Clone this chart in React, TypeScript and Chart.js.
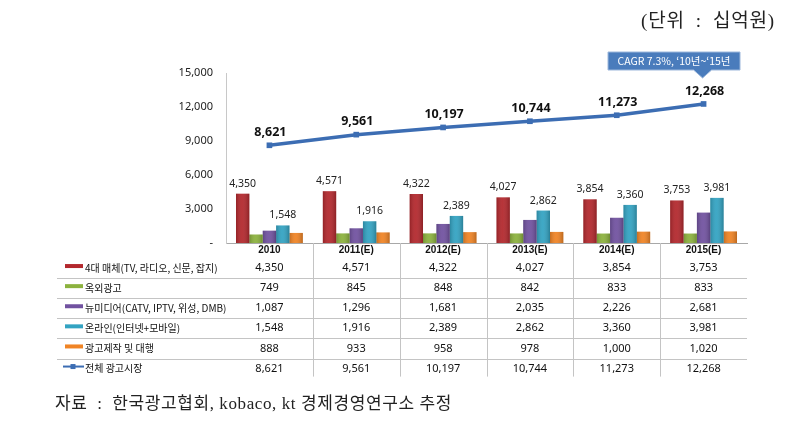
import React, { useEffect, useRef } from 'react';
import { Chart, registerables } from 'chart.js';

Chart.register(...registerables);

// ---- data ----
const categories = ['2010', '2011(E)', '2012(E)', '2013(E)', '2014(E)', '2015(E)'];
const seriesNames = [
  '4대 매체(TV, 라디오, 신문, 잡지)',
  '옥외광고',
  '뉴미디어(CATV, IPTV, 위성, DMB)',
  '온라인(인터넷+모바일)',
  '광고제작 및 대행',
  '전체 광고시장',
];
const massMedia = [4350, 4571, 4322, 4027, 3854, 3753];
const outdoor = [749, 845, 848, 842, 833, 833];
const newMedia = [1087, 1296, 1681, 2035, 2226, 2681];
const online = [1548, 1916, 2389, 2862, 3360, 3981];
const production = [888, 933, 958, 978, 1000, 1020];
const total = [8621, 9561, 10197, 10744, 11273, 12268];
const yMax = 15000;
const yStep = 3000;
const unitText = '(단위 : 십억원)';
const calloutText = 'CAGR 7.3%, ‘10년~‘15년';
const sourceText = '자료 : 한국광고협회, kobaco, kt 경제경영연구소 추정';

const colors = ['#B3282D', '#8CB23E', '#7152A0', '#33A3C2', '#F08425', '#3C6DB3'];
const allSeries = [massMedia, outdoor, newMedia, online, production, total];
const labeledBars = [0, 3];

const fmt = (v: number) => v.toLocaleString('en-US');

const overlayPlugin = {
  id: 'overlay',
  afterDraw(chart: any) {
    const { ctx, scales } = chart;
    const x = scales.x;
    const area = chart.chartArea;
    ctx.save();

    // bar shading (cylinder look) on top of library bars
    for (let d = 0; d < 5; d++) {
      chart.getDatasetMeta(d).data.forEach((el: any) => {
        const w = el.width;
        const left = el.x - w / 2;
        const g = ctx.createLinearGradient(left, 0, left + w, 0);
        g.addColorStop(0, 'rgba(0,0,0,0.18)');
        g.addColorStop(0.45, 'rgba(255,255,255,0.06)');
        g.addColorStop(1, 'rgba(0,0,0,0.22)');
        ctx.fillStyle = g;
        ctx.fillRect(left, el.y, w, el.base - el.y);
      });
    }

    // bar labels
    ctx.font = '10.5px "Noto Sans", sans-serif';
    ctx.fillStyle = '#222';
    ctx.textAlign = 'center';
    ctx.textBaseline = 'middle';
    labeledBars.forEach((d) => {
      chart.getDatasetMeta(d).data.forEach((el: any, i: number) => {
        ctx.fillText(fmt(allSeries[d][i]), el.x, el.y - 10);
      });
    });

    // line labels
    ctx.font = 'bold 12.5px "Noto Sans", sans-serif';
    ctx.fillStyle = '#111';
    chart.getDatasetMeta(5).data.forEach((el: any, i: number) => {
      ctx.fillText(fmt(total[i]), el.x + 1, el.y - 13);
    });

    // data table
    const rowTop = 258;
    const rowH = 20.1;
    const n = categories.length;
    ctx.strokeStyle = '#C4C4C4';
    ctx.lineWidth = 1;
    for (let r = 1; r < seriesNames.length; r++) {
      const yy = Math.round(rowTop + rowH * r) + 0.5;
      ctx.beginPath();
      ctx.moveTo(57, yy);
      ctx.lineTo(area.right, yy);
      ctx.stroke();
    }
    const tableBottom = rowTop + rowH * seriesNames.length - 2;
    for (let i = 1; i < n; i++) {
      const bx = Math.round((x.getPixelForValue(i - 1) + x.getPixelForValue(i)) / 2) + 0.5;
      ctx.beginPath();
      ctx.moveTo(bx, area.bottom);
      ctx.lineTo(bx, tableBottom);
      ctx.stroke();
    }

    seriesNames.forEach((name, r) => {
      const cy = rowTop + rowH * (r + 0.5);
      if (r < 5) {
        ctx.fillStyle = colors[r];
        ctx.fillRect(65, cy - 4, 18, 4);
      } else {
        ctx.strokeStyle = colors[5];
        ctx.lineWidth = 2;
        ctx.beginPath();
        ctx.moveTo(63, cy - 2);
        ctx.lineTo(84, cy - 2);
        ctx.stroke();
        ctx.fillStyle = colors[5];
        ctx.fillRect(70.5, cy - 4.5, 5, 5);
      }
      ctx.fillStyle = '#111';
      ctx.textAlign = 'left';
      ctx.font = '10px "Noto Sans CJK KR", sans-serif';
      ctx.fillText(name, 85, cy);
      ctx.textAlign = 'center';
      ctx.font = '11px "Noto Sans", sans-serif';
      allSeries[r].forEach((v, i) => {
        ctx.fillText(fmt(v), x.getPixelForValue(i), cy);
      });
    });

    // unit text
    ctx.fillStyle = '#222';
    ctx.textAlign = 'right';
    ctx.font = '19px "Liberation Serif", "Noto Sans CJK KR", serif';
    (ctx as any).letterSpacing = '0.8px';
    ctx.fillText(unitText.replace(/ : /, '  :  '), 775, 22);

    // source
    ctx.textAlign = 'left';
    ctx.font = '17px "Liberation Serif", "Noto Sans CJK KR", serif';
    (ctx as any).letterSpacing = '0.6px';
    ctx.fillText(sourceText.replace(/ : /, '  :  '), 55, 405);
    (ctx as any).letterSpacing = '0px';

    // callout
    const bx0 = 608, bx1 = 740, by0 = 52, by1 = 70;
    const tipX = chart.getDatasetMeta(5).data[n - 1].x - 1;
    ctx.fillStyle = '#4A7CBC';
    ctx.strokeStyle = '#9DB8DC';
    ctx.lineWidth = 1;
    ctx.beginPath();
    ctx.moveTo(bx0, by0);
    ctx.lineTo(bx1, by0);
    ctx.lineTo(bx1, by1);
    ctx.lineTo(tipX + 9, by1);
    ctx.lineTo(tipX, 78);
    ctx.lineTo(tipX - 9, by1);
    ctx.lineTo(bx0, by1);
    ctx.closePath();
    ctx.fill();
    ctx.stroke();
    ctx.fillStyle = '#FFFFFF';
    ctx.textAlign = 'center';
    ctx.font = '10.5px "Noto Sans CJK KR", sans-serif';
    ctx.fillText(calloutText, (bx0 + bx1) / 2, (by0 + by1) / 2 + 0.5);

    ctx.restore();
  },
};

export default function App() {
  const ref = useRef<HTMLCanvasElement>(null);
  useEffect(() => {
    document.body.style.margin = '0';
    const canvas = ref.current;
    if (!canvas) return;
    const barDatasets = [0, 1, 2, 3, 4].map((d) => ({
      type: 'bar' as const,
      label: seriesNames[d],
      data: allSeries[d],
      backgroundColor: colors[d],
      borderWidth: 0,
      barPercentage: 1,
      categoryPercentage: 0.77,
      order: 1,
    }));
    const chart = new Chart(canvas, {
      type: 'bar',
      data: {
        labels: categories,
        datasets: [
          ...barDatasets,
          {
            type: 'line' as const,
            label: seriesNames[5],
            data: total,
            borderColor: colors[5],
            backgroundColor: colors[5],
            borderWidth: 3.5,
            pointStyle: 'rect',
            pointRadius: 4,
            pointBackgroundColor: colors[5],
            pointBorderWidth: 0,
            tension: 0,
            order: 0,
          } as any,
        ],
      },
      options: {
        animation: false,
        responsive: false,
        layout: { padding: { left: 0, right: 49, top: 73, bottom: 0 } },
        plugins: { legend: { display: false }, tooltip: { enabled: false } },
        scales: {
          x: {
            grid: { display: false, drawTicks: false },
            border: { display: true, color: '#A8A8A8' },
            ticks: {
              padding: 1,
              color: '#111',
              font: { family: '"Liberation Sans", sans-serif', size: 10, weight: 'bold' },
              maxRotation: 0,
            },
            afterFit: (s: any) => {
              s.height = 190;
            },
          },
          y: {
            min: 0,
            max: yMax,
            ticks: {
              stepSize: yStep,
              padding: 13,
              color: '#222',
              font: { family: '"Noto Sans", sans-serif', size: 11 },
              callback: (v: any) => (Number(v) === 0 ? '-' : fmt(Number(v))),
            },
            grid: { display: false, drawTicks: false },
            border: { display: true, color: '#C8C8C8' },
            afterFit: (s: any) => {
              s.width = 226;
            },
          },
        },
      },
      plugins: [overlayPlugin],
    });
    return () => chart.destroy();
  }, []);
  return (
    <div style={{ width: 796, height: 433, position: 'relative', background: '#fff' }}>
      <canvas ref={ref} width={796} height={433} style={{ display: 'block' }} />
    </div>
  );
}
